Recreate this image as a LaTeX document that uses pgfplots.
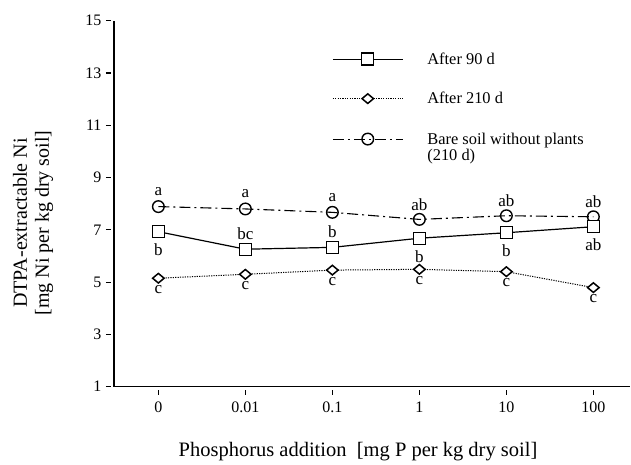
\documentclass[border=0pt]{standalone}
\usepackage{pgfplots}
\pgfplotsset{compat=1.18}
\usepackage{fontspec}
\setmainfont{Liberation Serif}

\begin{document}
\begin{tikzpicture}[font=\fontsize{16bp}{19bp}\selectfont]
\begin{axis}[
    x=87bp, y=26.14bp,
    xmin=-0.51, xmax=5.42, ymin=1, ymax=15,
    axis lines*=left,
    axis line style={line width=1.2bp},
    xtick={0,...,5},
    xticklabels={0,0.01,0.1,1,10,100},
    ytick={1,3,...,15},
    tick align=outside,
    major tick length=5bp,
    every tick/.style={black, line width=1.2bp},
    xtick style={yshift=-3bp},
    ytick style={xshift=-3bp},
    /pgf/number format/assume math mode=true,
    tick label style={font=\fontsize{16bp}{19bp}\selectfont},
    xticklabel style={yshift=-7bp},
    yticklabel style={xshift=-4bp},
    xlabel={Phosphorus addition\ \ [mg P per kg dry soil]},
    ylabel={DTPA-extractable Ni\\{[mg Ni per kg dry soil]}},
    xlabel style={font=\fontsize{20.5bp}{22bp}\selectfont,
        at={(axis description cs:0.473,-0.178)}, anchor=center},
    ylabel style={font=\fontsize{20bp}{22bp}\selectfont,
        at={(axis description cs:-0.157,0.447)}, anchor=center, align=center},
    clip=false,
    legend style={draw=none, fill=none, at={(0.4225,0.919)}, anchor=north west,
        legend cell align=left, row sep=22.5bp, column sep=22bp, inner sep=0pt,
        font=\fontsize{16.4bp}{19bp}\selectfont, nodes={inner sep=2bp}},
    legend image code/.code={\draw[mark repeat=2,mark phase=2,#1] plot coordinates {(0bp,0bp) (35bp,0bp) (70bp,0bp)};},
    every node near coord/.append style={font=\fontsize{17bp}{19bp}\selectfont, anchor=center},
]
% bare soil, drawn first so the squares lie on top
\addplot[black, line width=1.1bp, dash pattern=on 11bp off 4bp on 2bp off 4bp,
    mark=o, mark size=5.8bp, mark options={solid, fill=white, line width=1.4bp}, forget plot]
    coordinates {(0,7.89) (1,7.80) (2,7.67) (3,7.40) (4,7.54) (5,7.50)};

\addplot[black, line width=1.2bp, mark=square*, mark size=6bp, mark options={solid, fill=white, line width=1.4bp}]
    coordinates {(0,6.93) (1,6.26) (2,6.33) (3,6.68) (4,6.89) (5,7.12)};
\addlegendentry{After 90 d}

\addplot[black, line width=1bp, dash pattern=on 1.2bp off 1.2bp,
    mark=diamond*, mark size=4.8bp, mark options={solid, fill=white, line width=1.5bp, xscale=1.6}]
    coordinates {(0,5.15) (1,5.30) (2,5.46) (3,5.49) (4,5.40) (5,4.79)};
\addlegendentry{After 210 d}

\addlegendimage{black, line width=1.1bp, dash pattern=on 11bp off 4bp on 2bp off 4bp,
    mark=o, mark size=5.8bp, mark options={solid, fill=white, line width=1.4bp}}
\addlegendentry{\begin{tabular}[t]{@{}l@{}}Bare soil without plants\\[-3bp](210 d)\end{tabular}}

% letters
\addplot[draw=none, mark=none, forget plot, point meta=explicit symbolic, nodes near coords,
    every node near coord/.append style={yshift=15bp}]
    coordinates {(0,7.89)[a] (1,7.80)[a] (2,7.67)[a] (3,7.40)[ab] (4,7.54)[ab] (5,7.50)[ab]};
\addplot[draw=none, mark=none, forget plot, point meta=explicit symbolic, nodes near coords,
    every node near coord/.append style={yshift=16bp}]
    coordinates {(1,6.26)[bc] (2,6.33)[b]};
\addplot[draw=none, mark=none, forget plot, point meta=explicit symbolic, nodes near coords,
    every node near coord/.append style={yshift=-18bp}]
    coordinates {(0,6.93)[b] (3,6.68)[b] (4,6.89)[b] (5,7.12)[ab]};
\addplot[draw=none, mark=none, forget plot, point meta=explicit symbolic, nodes near coords,
    every node near coord/.append style={yshift=-11bp}]
    coordinates {(0,5.15)[c] (1,5.30)[c] (2,5.46)[c] (3,5.49)[c] (4,5.40)[c] (5,4.79)[c]};
\end{axis}
\path (-114bp,-78.3bp) rectangle (517bp,386.7bp);
\end{tikzpicture}
\end{document}
